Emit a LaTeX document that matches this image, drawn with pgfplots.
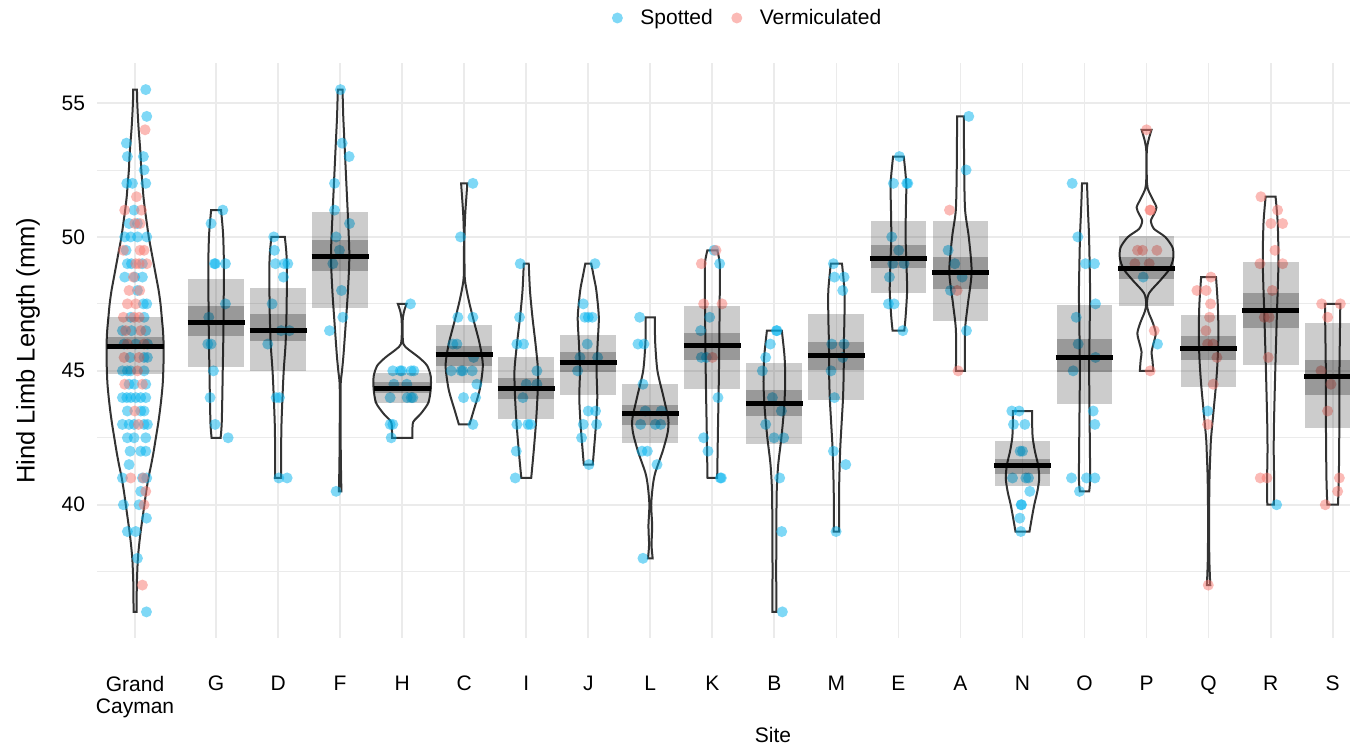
\documentclass[border=0pt]{standalone}
\usepackage{fontspec}
\setmainfont{Liberation Sans}
\usepackage{pgfplots}
\pgfplotsset{compat=1.18}
\usepackage{pgfplotstable}
\usepgfplotslibrary{fillbetween}

\definecolor{spot}{RGB}{0,178,238}
\definecolor{verm}{RGB}{248,118,109}
\definecolor{gridc}{RGB}{235,235,235}
\definecolor{beanline}{RGB}{51,51,51}

% ---------- raw observations (x = site position + jitter) ----------
\pgfplotstableread{
x y
-0.134 55.5
-0.118 54.5
-0.446 53.5
-0.430 53.0
-0.172 53.0
-0.161 52.5
-0.440 52.0
-0.349 52.0
-0.134 52.0
-0.322 51.0
-0.403 50.5
-0.268 50.5
-0.473 50.0
-0.376 50.0
-0.268 50.0
-0.118 50.0
-0.451 49.5
-0.430 49.0
-0.365 49.0
-0.188 49.0
-0.473 48.5
-0.311 48.5
-0.188 48.5
-0.268 48.0
-0.172 47.5
-0.118 47.5
-0.376 47.0
-0.161 47.0
-0.510 46.5
-0.365 46.5
-0.134 46.5
-0.483 46.0
-0.295 46.0
-0.107 46.0
-0.387 45.5
-0.161 45.5
-0.107 45.5
-0.510 45.0
-0.430 45.0
-0.376 45.0
-0.161 45.0
-0.403 44.5
-0.322 44.5
-0.134 44.5
-0.510 44.0
-0.440 44.0
-0.376 44.0
-0.295 44.0
-0.215 44.0
-0.134 44.0
-0.430 43.5
-0.215 43.5
-0.161 43.5
-0.510 43.0
-0.403 43.0
-0.322 43.0
-0.161 43.0
-0.107 43.0
-0.430 42.5
-0.322 42.5
-0.134 42.5
-0.387 42.0
-0.215 42.0
-0.134 42.0
-0.403 41.5
-0.510 41.0
-0.188 41.0
-0.118 41.0
-0.215 40.5
-0.494 40.0
-0.241 40.0
-0.123 39.5
-0.430 39.0
-0.295 39.0
-0.268 38.0
-0.123 36.0
1.108 51.0
0.919 50.5
0.973 49.0
0.989 49.0
1.151 49.0
1.151 47.5
0.882 47.0
0.866 46.0
0.919 46.0
0.957 45.0
0.903 44.0
0.984 43.0
1.194 42.5
1.930 50.0
1.941 49.5
1.957 49.0
2.102 49.0
2.156 49.0
2.086 48.5
1.903 47.5
2.048 46.5
2.183 46.5
1.833 46.0
1.968 44.0
2.022 44.0
2.011 41.0
2.145 41.0
3.005 55.5
3.032 53.5
3.145 53.0
2.909 52.0
2.909 51.0
3.151 50.5
2.935 50.0
2.989 49.5
2.882 49.0
3.022 48.0
3.043 47.0
2.828 46.5
2.935 40.5
4.134 47.5
3.849 45.0
3.968 45.0
3.995 45.0
4.145 45.0
4.188 45.0
3.866 44.5
4.075 44.5
3.806 44.0
4.081 44.0
4.145 44.0
4.172 44.0
3.806 43.0
3.849 43.0
3.823 42.5
5.140 52.0
4.941 50.0
4.898 47.0
5.140 47.0
4.817 46.0
4.882 46.0
5.151 45.5
4.790 45.0
4.952 45.0
4.978 45.0
5.129 45.0
5.204 44.5
4.989 44.0
5.183 44.0
5.140 43.0
5.903 49.0
5.892 47.0
5.849 46.0
5.957 46.0
6.172 45.0
6.000 44.5
6.172 44.5
5.946 44.0
5.849 43.0
6.027 43.0
6.070 43.0
5.839 42.0
5.823 41.0
7.108 49.0
6.919 47.5
6.946 47.0
7.000 47.0
7.065 47.0
6.984 46.0
6.866 45.5
7.151 45.5
6.828 45.0
7.000 43.5
7.118 43.5
6.919 43.0
7.134 43.0
6.892 42.5
7.011 41.5
7.828 47.0
7.801 46.0
7.898 46.0
7.882 44.5
7.919 43.5
8.177 43.5
7.844 43.0
8.081 43.0
8.167 43.0
7.866 42.0
7.952 42.0
8.108 41.5
7.882 38.0
9.027 49.5
9.118 49.0
8.957 47.0
8.812 46.5
8.823 45.5
8.903 45.5
9.091 44.0
8.860 42.5
8.930 42.0
9.145 41.0
9.129 41.0
10.032 46.5
10.043 46.5
9.935 46.0
9.860 45.5
9.806 45.0
9.968 44.0
10.113 43.5
9.860 43.0
9.995 42.5
10.151 42.5
10.086 41.0
10.118 39.0
10.129 36.0
10.952 49.0
10.968 48.5
11.124 48.5
11.102 48.0
10.925 46.0
11.124 46.0
11.102 45.5
10.914 45.0
10.968 44.0
10.952 42.0
11.151 41.5
10.995 39.0
12.016 53.0
11.919 52.0
12.134 52.0
12.151 52.0
11.892 50.0
12.005 49.5
11.909 49.0
12.091 49.0
11.855 48.5
11.839 47.5
11.930 47.5
12.070 46.5
13.134 54.5
13.091 52.5
12.801 49.5
12.909 49.0
13.027 48.5
12.839 48.0
13.097 46.5
13.828 43.5
13.946 43.5
13.855 43.0
14.038 43.0
13.962 42.0
14.000 42.0
13.839 41.0
14.054 41.0
14.097 41.0
14.118 40.5
13.978 40.0
13.984 40.0
13.957 39.5
13.973 39.0
14.801 52.0
14.892 50.0
15.016 49.0
15.161 49.0
15.177 47.5
14.866 47.0
14.898 46.0
15.177 45.5
14.817 45.0
15.140 43.5
15.167 43.0
14.790 41.0
15.032 41.0
15.167 41.0
14.919 40.5
15.946 48.5
16.177 46.0
16.984 43.5
18.097 40.0
}\spotted

\pgfplotstableread{
x y
-0.145 54.0
-0.284 51.5
-0.473 51.0
-0.204 51.0
-0.311 50.5
-0.225 50.5
-0.494 49.5
-0.225 49.5
-0.161 49.5
-0.295 49.0
-0.241 49.0
-0.118 49.0
-0.333 48.5
-0.403 48.0
-0.231 48.0
-0.430 47.5
-0.295 47.5
-0.494 47.0
-0.241 47.0
-0.322 47.0
-0.457 46.5
-0.215 46.5
-0.430 46.0
-0.161 46.0
-0.483 45.5
-0.241 45.5
-0.268 45.0
-0.473 44.5
-0.188 44.5
-0.311 43.5
-0.252 43.0
-0.376 41.0
-0.172 41.0
-0.134 40.5
-0.161 40.0
-0.188 37.0
9.059 49.5
8.823 49.0
8.860 47.5
9.156 47.5
9.000 45.5
12.823 51.0
12.946 48.0
12.962 45.0
16.000 54.0
16.054 51.0
16.065 51.0
15.855 49.5
15.935 49.5
16.167 49.5
15.812 49.0
16.043 49.0
16.124 46.5
16.059 45.0
17.038 48.5
16.812 48.0
16.962 48.0
17.032 47.5
17.016 47.0
16.957 46.5
16.984 46.0
17.070 46.0
17.134 45.5
17.075 44.5
16.984 43.0
16.995 37.0
17.844 51.5
18.113 51.0
18.005 50.5
18.194 50.5
18.070 49.5
17.828 49.0
18.194 49.0
18.027 48.0
17.898 47.0
17.978 47.0
17.962 45.5
17.833 41.0
17.941 41.0
18.823 47.5
19.124 47.5
18.919 47.0
18.812 45.0
18.973 44.5
18.919 43.5
19.108 41.0
19.081 40.5
18.882 40.0
}\vermic

% ---------- bean outlines: half width w at length y ----------
\pgfplotstableread{
y w
36.0 0.025
36.5 0.026
37.0 0.028
37.5 0.035
38.0 0.045
38.5 0.065
39.0 0.09
39.5 0.12
40.0 0.15
40.5 0.18
41.0 0.215
41.5 0.26
42.0 0.30
42.5 0.335
43.0 0.37
43.5 0.40
44.0 0.425
44.5 0.445
45.0 0.455
45.5 0.46
46.0 0.46
46.5 0.45
47.0 0.43
47.5 0.41
48.0 0.38
48.5 0.34
49.0 0.30
49.5 0.26
50.0 0.22
50.5 0.19
51.0 0.16
51.5 0.135
52.0 0.118
52.5 0.10
53.0 0.09
53.5 0.075
54.0 0.058
54.5 0.045
55.0 0.035
55.5 0.03
}\vioGC
\pgfplotstableread{
y w
42.5 0.073
43.0 0.09
44.0 0.10
45.0 0.107
46.0 0.115
47.0 0.12
48.0 0.124
49.0 0.126
50.0 0.115
50.5 0.10
51.0 0.08
}\vioG
\pgfplotstableread{
y w
41.0 0.048
42.0 0.048
43.0 0.054
44.0 0.07
45.0 0.09
46.0 0.12
47.0 0.134
48.0 0.14
49.0 0.14
49.5 0.13
50.0 0.108
}\vioD
\pgfplotstableread{
y w
40.5 0.02
41.5 0.012
42.5 0.008
43.5 0.006
44.5 0.008
45.0 0.03
45.6 0.054
46.9 0.094
48.0 0.126
49.3 0.148
50.7 0.126
52.0 0.10
53.5 0.07
54.5 0.05
55.5 0.038
}\vioF
\pgfplotstableread{
y w
42.5 0.164
42.8 0.165
43.1 0.18
43.4 0.30
43.8 0.42
44.3 0.46
44.8 0.46
45.2 0.40
45.5 0.27
45.8 0.10
46.0 0.02
46.5 0.005
47.0 0.012
47.3 0.04
47.5 0.07
}\vioH
\pgfplotstableread{
y w
43.0 0.086
43.5 0.15
44.3 0.25
45.2 0.30
46.0 0.25
46.9 0.15
47.5 0.086
48.0 0.04
48.5 0.008
49.5 0.004
50.0 0.004
50.8 0.015
51.5 0.035
52.0 0.05
}\vioC
\pgfplotstableread{
y w
41.0 0.08
42.0 0.12
43.0 0.155
44.0 0.18
45.0 0.19
46.0 0.15
47.0 0.10
48.0 0.06
49.0 0.04
}\vioI
\pgfplotstableread{
y w
41.5 0.072
42.0 0.09
43.0 0.124
44.0 0.145
45.0 0.134
46.0 0.15
47.0 0.17
48.0 0.13
48.5 0.09
49.0 0.048
}\vioJ
\pgfplotstableread{
y w
38.0 0.038
38.5 0.02
39.2 0.03
40.0 0.015
40.7 0.04
41.2 0.08
42.0 0.20
42.7 0.28
43.2 0.29
44.0 0.215
45.0 0.115
46.0 0.08
46.5 0.075
47.0 0.075
}\vioL
\pgfplotstableread{
y w
41.0 0.078
42.0 0.085
43.0 0.092
44.0 0.10
45.0 0.107
46.0 0.112
47.0 0.116
48.0 0.12
49.0 0.12
49.5 0.08
}\vioK
\pgfplotstableread{
y w
36.0 0.032
37.5 0.03
39.0 0.032
40.5 0.038
41.5 0.062
42.5 0.113
43.5 0.153
44.5 0.175
45.5 0.165
46.5 0.12
}\vioB
\pgfplotstableread{
y w
39.0 0.043
40.5 0.043
42.0 0.06
43.0 0.083
44.0 0.107
45.0 0.118
46.0 0.12
47.0 0.13
48.0 0.13
49.0 0.09
}\vioM
\pgfplotstableread{
y w
46.5 0.094
47.0 0.115
48.0 0.14
49.0 0.129
50.0 0.115
51.0 0.12
52.0 0.126
53.0 0.086
}\vioE
\pgfplotstableread{
y w
45.0 0.073
46.5 0.073
47.5 0.12
48.7 0.18
50.0 0.134
51.0 0.075
52.5 0.06
54.5 0.054
}\vioA
\pgfplotstableread{
y w
39.0 0.113
39.5 0.15
40.0 0.19
40.5 0.24
41.0 0.27
41.5 0.25
42.0 0.20
42.5 0.165
43.0 0.156
43.5 0.156
}\vioN
\pgfplotstableread{
y w
40.5 0.075
41.0 0.09
43.0 0.083
45.0 0.075
47.0 0.085
48.0 0.09
50.0 0.073
51.0 0.055
52.0 0.04
}\vioO
\pgfplotstableread{
y w
45.0 0.108
45.4 0.095
45.7 0.08
46.0 0.11
46.4 0.148
46.8 0.10
47.2 0.03
47.5 0.006
47.9 0.04
48.4 0.23
48.8 0.37
49.2 0.43
49.6 0.42
50.0 0.30
50.3 0.12
50.6 0.07
50.85 0.12
51.1 0.16
51.4 0.10
51.8 0.02
52.2 0.004
53.2 0.004
53.6 0.03
54.0 0.08
}\vioP
\pgfplotstableread{
y w
37.0 0.027
38.0 0.012
39.5 0.008
41.0 0.015
42.0 0.03
42.5 0.04
43.5 0.08
44.5 0.12
45.5 0.148
46.5 0.158
47.5 0.148
48.5 0.12
}\vioQ
\pgfplotstableread{
y w
40.0 0.054
41.0 0.056
42.0 0.05
43.0 0.054
45.0 0.075
47.0 0.10
49.0 0.126
50.5 0.115
51.5 0.08
}\vioR
\pgfplotstableread{
y w
40.0 0.086
41.0 0.10
43.0 0.108
45.0 0.11
46.5 0.118
47.5 0.124
}\vioS

% unit shapes for the interval boxes and the mean bar
\pgfplotstableread{
dx t
-0.45 0
0.45 0
0.45 1
-0.45 1
}\unitbox
\pgfplotstableread{
dx t
-0.46 0
0.46 0
}\unitline

% bean outline: id, position, table
\newcommand{\bean}[3]{%
  \addplot[draw=none, smooth, tension=0.45, forget plot, name path=#1r] table[x expr=#2+\thisrow{w}, y=y] {#3};
  \addplot[draw=none, smooth, tension=0.45, forget plot, name path=#1l] table[x expr=#2-\thisrow{w}, y=y] {#3};
  \addplot[draw=beanline, line width=1pt, fill=none, forget plot] fill between[of=#1r and #1l, reverse=true];
}
% interval boxes and mean: position, lo, hi, inner lo, inner hi, mean
\newcommand{\stats}[6]{%
  \addplot[draw=none, fill=black, fill opacity=0.2, forget plot]
    table[x expr=#1+\thisrow{dx}, y expr=#2+(#3-#2)*\thisrow{t}] {\unitbox};
  \addplot[draw=none, fill=black, fill opacity=0.25, forget plot]
    table[x expr=#1+\thisrow{dx}, y expr=#4+(#5-#4)*\thisrow{t}] {\unitbox};
  \addplot[black, line width=2.5pt, forget plot]
    table[x expr=#1+\thisrow{dx}, y expr=#6+0*\thisrow{t}] {\unitline};
}

\begin{document}
\begin{tikzpicture}
\begin{axis}[
  name=ax, at={(0,0)}, anchor=south west,
  scale only axis, width=626.5pt, height=287.25pt,
  xmin=-0.92, xmax=19.28, ymin=35.025, ymax=56.475,
  clip mode=individual,
  axis line style={draw=none},
  major tick length=0pt, minor tick length=0pt,
  xtick={-0.306,1,2,3,4,5,6,7,8,9,10,11,12,13,14,15,16,17,18,19},
  xticklabels={{Grand\\Cayman},G,D,F,H,C,I,J,L,K,B,M,E,A,N,O,P,Q,R,S},
  xticklabel style={align=center, font=\fontsize{10.5}{11}\selectfont, yshift=-15.5pt},
  ytick={40,45,50,55},
  minor ytick={37.5,42.5,47.5,52.5},
  yticklabel style={font=\fontsize{10.5}{12}\selectfont, xshift=-2.5pt},
  /pgf/number format/assume math mode=true,
  grid=both,
  major grid style={color=gridc, line width=0.9pt},
  minor grid style={color=gridc, line width=0.45pt},
  xlabel={Site},
  every axis x label/.style={at={(axis description cs:0.5395,-0.1688)}, anchor=center, font=\fontsize{10.5}{12}\selectfont},
  ylabel={Hind Limb Length (mm)},
  every axis y label/.style={at={(axis description cs:-0.0551,0.5)}, rotate=90, anchor=center, font=\fontsize{12.75}{14}\selectfont},
  legend columns=2,
  legend style={draw=none, fill=none, at={(0,1)}, anchor=west, xshift=257.25pt, yshift=22.75pt,
    font=\fontsize{10.5}{12}\selectfont, inner sep=0pt, row sep=0pt,
    nodes={inner sep=0pt},
    /tikz/every odd column/.append style={column sep=8.75pt},
    /tikz/every even column/.append style={column sep=9.25pt}},
  legend cell align=left,
]
\addlegendimage{legend image code/.code={\path[draw=none, fill=spot, fill opacity=0.5] (0pt,0pt) circle (2.75pt);}}
\addlegendentry{Spotted}
\addlegendimage{legend image code/.code={\path[draw=none, fill=verm, fill opacity=0.5] (0pt,0pt) circle (2.75pt);}}
\addlegendentry{Vermiculated}

% observations
\addplot[only marks, mark=*, mark size=2.75pt, color=spot, forget plot,
  mark options={draw=spot, draw opacity=0, fill=spot, fill opacity=0.5}] table[x=x, y=y] {\spotted};
\addplot[only marks, mark=*, mark size=2.75pt, color=verm, forget plot,
  mark options={draw=verm, draw opacity=0, fill=verm, fill opacity=0.5}] table[x=x, y=y] {\vermic};

% beans
\bean{gc}{-0.306}{\vioGC}
\bean{g}{1}{\vioG}
\bean{d}{2}{\vioD}
\bean{f}{3}{\vioF}
\bean{h}{4}{\vioH}
\bean{c}{5}{\vioC}
\bean{i}{6}{\vioI}
\bean{j}{7}{\vioJ}
\bean{l}{8}{\vioL}
\bean{k}{9}{\vioK}
\bean{b}{10}{\vioB}
\bean{m}{11}{\vioM}
\bean{e}{12}{\vioE}
\bean{a}{13}{\vioA}
\bean{n}{14}{\vioN}
\bean{o}{15}{\vioO}
\bean{p}{16}{\vioP}
\bean{q}{17}{\vioQ}
\bean{r}{18}{\vioR}
\bean{s}{19}{\vioS}

% interval boxes and means
\stats{-0.306}{44.90}{47.00}{45.80}{46.25}{45.90}
\stats{1}{45.15}{48.41}{46.30}{47.41}{46.82}
\stats{2}{44.99}{48.08}{46.11}{47.11}{46.52}
\stats{3}{47.34}{50.92}{48.71}{49.87}{49.26}
\stats{4}{43.80}{44.92}{44.16}{44.57}{44.35}
\stats{5}{44.54}{46.70}{45.19}{45.92}{45.60}
\stats{6}{43.22}{45.53}{43.95}{44.72}{44.35}
\stats{7}{44.09}{46.33}{44.95}{45.69}{45.31}
\stats{8}{42.31}{44.49}{42.96}{43.71}{43.39}
\stats{9}{44.33}{47.41}{45.40}{46.43}{45.93}
\stats{10}{42.27}{45.28}{43.31}{44.27}{43.77}
\stats{11}{43.91}{47.14}{45.02}{46.06}{45.56}
\stats{12}{47.91}{50.58}{48.83}{49.68}{49.19}
\stats{13}{46.86}{50.58}{48.06}{49.26}{48.67}
\stats{14}{40.70}{42.37}{41.16}{41.70}{41.47}
\stats{15}{43.76}{47.45}{44.94}{46.18}{45.49}
\stats{16}{47.42}{50.04}{48.42}{49.26}{48.83}
\stats{17}{44.40}{47.07}{45.40}{46.29}{45.82}
\stats{18}{45.22}{49.05}{46.60}{47.90}{47.24}
\stats{19}{42.87}{46.80}{44.08}{45.40}{44.80}
\end{axis}
\pgfresetboundingbox
\path[use as bounding box] (-48.5pt,-55.5pt) rectangle (626.5pt,319pt);
\end{tikzpicture}
\end{document}
